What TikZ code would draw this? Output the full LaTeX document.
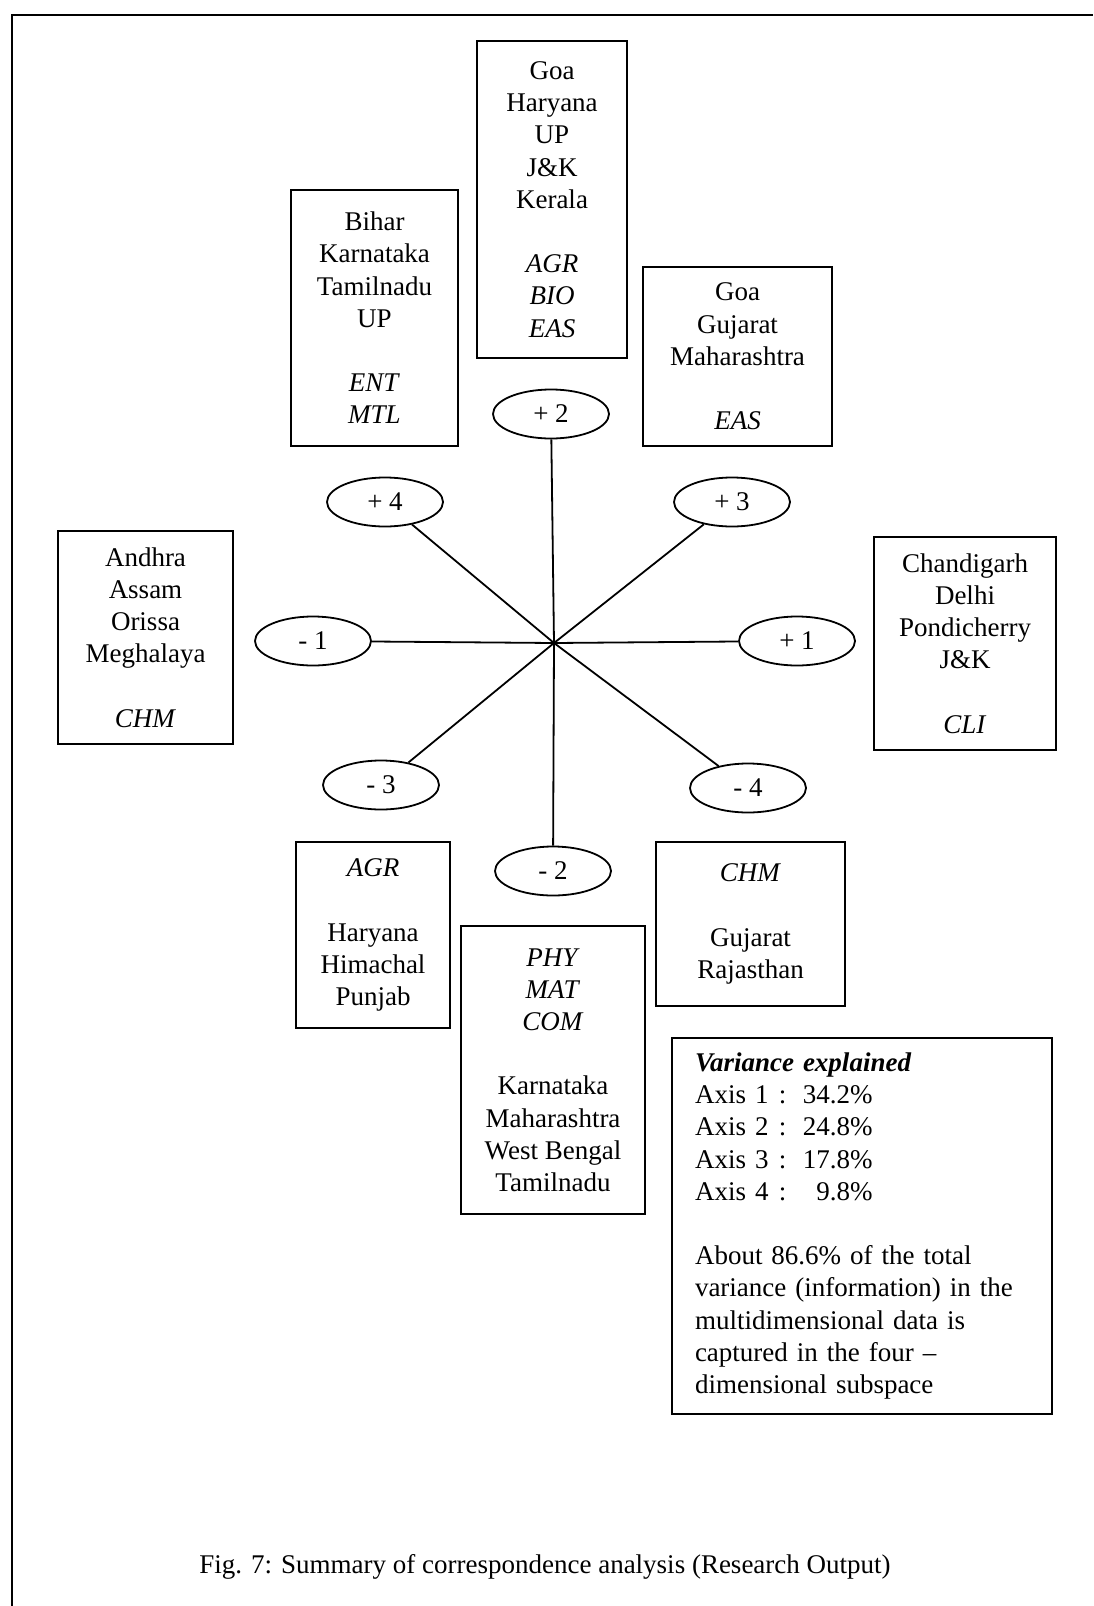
\documentclass[tikz,border=0pt]{standalone}
\usepackage{fontspec}
\usetikzlibrary{shapes.geometric}
\setmainfont{Liberation Serif}
\newcommand{\varrow}[2]{\makebox[42pt][l]{#1}:\makebox[43pt][r]{#2}}

\begin{document}
\begin{tikzpicture}[x=0.5pt,y=-0.5pt,
        every node/.append style={font=\fontsize{13.5}{16.1}\selectfont},
        axisend/.style={draw, ellipse, line width=0.9pt, minimum width=58pt, minimum height=24.5pt, inner sep=0pt},
        listbox/.style={draw, rectangle, line width=1pt, align=center, inner sep=0pt}]
        \useasboundingbox (0,0) rectangle (1093,1606);

        % Рамка страницы
        \draw[line width=1.2pt] (12,1606) -- (12,15) -- (1093,15);

        % Центр
        \coordinate (c) at (554,643);

        % Концы осей
        \foreach \name/\x/\y/\lbl in {
            p1/797/641/{+ 1}, m1/313/641/{- 1},
            p2/551/414/{+ 2}, m2/553/871/{- 2},
            p3/732/502/{+ 3}, m3/381/785/{- 3},
            p4/385/502/{+ 4}, m4/748/788/{- 4}}
        {
            \node[axisend] (\name) at (\x,\y) {\lbl};
            \draw[line width=0.9pt] (c) -- (\name);
        }

        % Списки
        \node[listbox, minimum width=75pt, minimum height=158.5pt] (boxP2) at (552,199.5)
            {Goa\\Haryana\\UP\\J\&K\\Kerala\\[\baselineskip]\textit{AGR}\\\textit{BIO}\\\textit{EAS}};
        \node[listbox, minimum width=83.5pt, minimum height=128pt] (boxP4) at (374.5,318)
            {Bihar\\Karnataka\\Tamilnadu\\UP\\[\baselineskip]\textit{ENT}\\\textit{MTL}};
        \node[listbox, minimum width=94.5pt, minimum height=89.5pt] (boxP3) at (737.5,356.5)
            {Goa\\Gujarat\\Maharashtra\\[\baselineskip]\textit{EAS}};
        \node[listbox, minimum width=87.5pt, minimum height=106.5pt] (boxM1) at (145.5,637.5)
            {Andhra\\Assam\\Orissa\\Meghalaya\\[\baselineskip]\textit{CHM}};
        \node[listbox, minimum width=91pt, minimum height=106.5pt] (boxP1) at (965,643.5)
            {Chandigarh\\Delhi\\Pondicherry\\J\&K\\[\baselineskip]\textit{CLI}};
        \node[listbox, minimum width=77pt, minimum height=93pt] (boxM3) at (373,935)
            {\textit{AGR}\\[\baselineskip]Haryana\\Himachal\\Punjab};
        \node[listbox, minimum width=92pt, minimum height=144pt] (boxM2) at (553,1070)
            {\textit{PHY}\\\textit{MAT}\\\textit{COM}\\[\baselineskip]Karnataka\\Maharashtra\\West Bengal\\Tamilnadu};
        \node[listbox, minimum width=94.5pt, minimum height=82pt] (boxM4) at (750.5,924)
            {\textit{CHM}\\[\baselineskip]Gujarat\\Rajasthan};

        % Объяснённая дисперсия
        \node[listbox, align=left, text width=167pt, inner xsep=11.5pt, minimum height=188pt] (boxVar) at (862,1226)
            {\textbf{\textit{Variance explained}}\\
             \varrow{Axis 1}{34.2\%}\\
             \varrow{Axis 2}{24.8\%}\\
             \varrow{Axis 3}{17.8\%}\\
             \varrow{Axis 4}{9.8\%}\\[\baselineskip]
             About 86.6\% of the total\\
             variance (information) in the\\
             multidimensional data is\\
             captured in the four --\\
             dimensional subspace};

        % Подпись
        \node (caption) at (545,1567) {Fig. 7: Summary of correspondence analysis (Research Output)};
    \end{tikzpicture}
\end{document}
